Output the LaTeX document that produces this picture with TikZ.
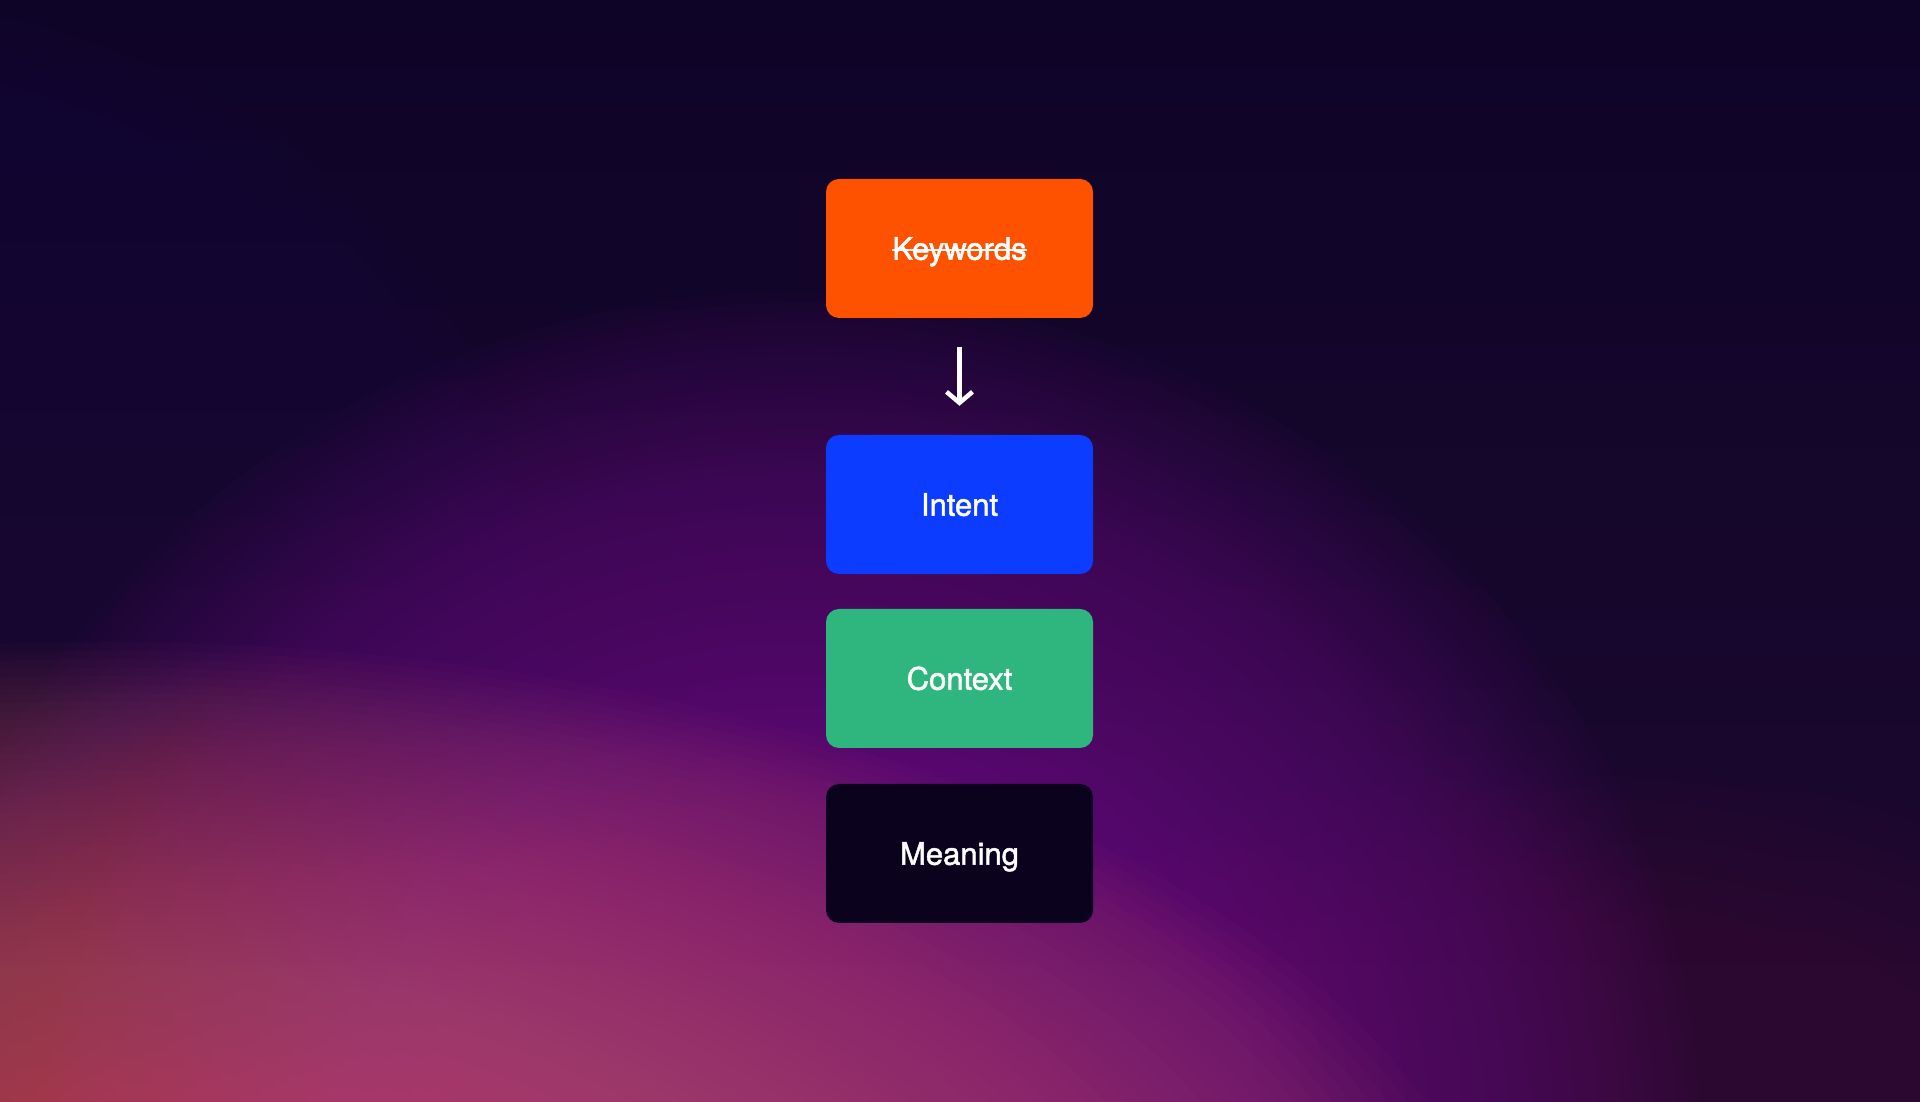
\documentclass[tikz,border=0pt]{standalone}
\usepackage{fontspec}
\setmainfont{TeX Gyre Heros}
\newfontfamily\cardfont{TeX Gyre Heros}[FakeBold=1.6]
\usetikzlibrary{arrows.meta}
\definecolor{bgtop}{HTML}{0E0428}
\definecolor{bgbot}{HTML}{1E0830}
\definecolor{kwcol}{HTML}{FF5200}
\definecolor{incol}{HTML}{0C3CFF}
\definecolor{cxcol}{HTML}{2EB67E}
\definecolor{mncol}{HTML}{0B021E}
\definecolor{navycol}{HTML}{3A1A5A}
\definecolor{violetcol}{HTML}{7A2292}
\definecolor{warmcol}{HTML}{C8566A}
\definecolor{maroncol}{HTML}{4A1434}
\newcommand{\crossout}[1]{\setbox0\hbox{#1}\rlap{\usebox0}\rule[9pt]{\wd0}{2pt}}
\tikzset{
    card/.style={
        rounded corners=13pt,
        minimum width=267pt,
        minimum height=139pt,
        inner sep=0pt,
        text=white,
        font=\cardfont\fontsize{31}{36}\selectfont,
        text height=22.5pt,
        text depth=0pt
    },
    flow/.style={
        white,
        line width=4.5pt,
        -{Straight Barb[length=11pt,width=26pt]},
        shorten <=29pt,
        shorten >=29pt
    },
    glowring/.style={fill=#1, fill opacity=0.03}
}
\begin{document}
\begin{tikzpicture}[x=1pt,y=1pt]
\useasboundingbox (0,0) rectangle (1920,1102);
% background
\shade[top color=bgtop, bottom color=bgbot] (0,0) rectangle (1920,1102);
\begin{scope}
\clip (0,0) rectangle (1920,1102);
\foreach \i in {1,...,60}
    \fill[glowring=navycol, fill opacity=0.025] (-150,450) ellipse ({700/60*\i} and {650/60*\i});
\foreach \i in {1,...,40}
    \fill[glowring=maroncol, fill opacity=0.03] (1550,-100) ellipse ({750/40*\i} and {450/40*\i});
\foreach \i in {1,...,80}
    \fill[glowring=violetcol] (800,-40) ellipse ({900/80*\i} and {850/80*\i});
\foreach \i in {1,...,80}
    \fill[glowring=warmcol] (100,-220) ellipse ({1400/80*\i} and {680/80*\i});
\end{scope}
% cards
\node[card, fill=kwcol] (keywords) at (959.5,853.5) {\crossout{Keywords}};
\node[card, fill=incol] (intent) at (959.5,597.5) {Intent};
\node[card, fill=cxcol] (context) at (959.5,423.5) {Context};
\node[card, fill=mncol] (meaning) at (959.5,248.5) {Meaning};
\draw[flow] (keywords) -- (intent);
\end{tikzpicture}
\end{document}
